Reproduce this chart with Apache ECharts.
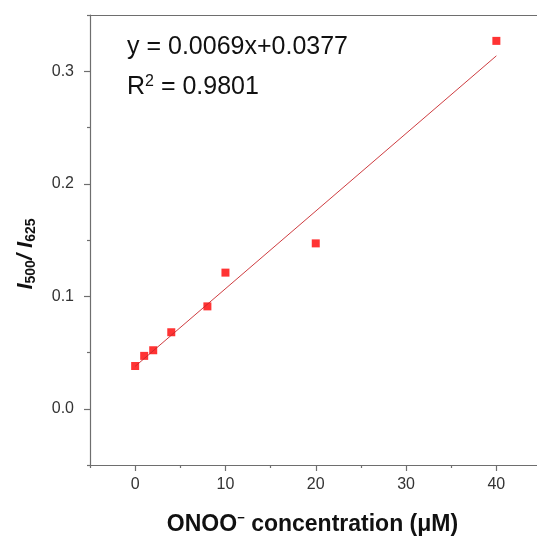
<!DOCTYPE html>
<html>
<head>
<meta charset="utf-8">
<script src="https://cdn.jsdelivr.net/npm/echarts@6/dist/echarts.min.js"></script>
<style>
  html, body { margin: 0; padding: 0; background: #fff; }
  #chart { width: 537px; height: 540px; }
</style>
</head>
<body>
<div id="chart"></div>
<script>
// Calibration data: ratio I500/I625 vs ONOO- concentration (µM)
const concentrations = [0, 1, 2, 4, 8, 10, 20, 40];
const ratios = [0.038, 0.047, 0.052, 0.068, 0.091, 0.121, 0.147, 0.327];

// Linear fit reported on the plot
const fitSlope = 0.0069;
const fitIntercept = 0.0377;
const fitRSquared = '0.9801';
const fitRange = [0, 40];

// Axis ticks
const xMajorTicks = [0, 10, 20, 30, 40];
const xMinorTicks = [-5, 5, 15, 25, 35];
const yMajorTicks = [0, 0.1, 0.2, 0.3];
const yMinorTicks = [-0.05, 0.05, 0.15, 0.25, 0.35];

const fitLine = fitRange.map(x => [x, fitSlope * x + fitIntercept]);

const axisColor = '#6e6e6e';
const font = 'Liberation Sans, Arial, sans-serif';
const X_MIN = -5, X_MAX = 44.5, Y_MIN = -0.05, Y_MAX = 0.35;

const chart = echarts.init(document.getElementById('chart'), null, { renderer: 'canvas' });

chart.setOption({
  backgroundColor: '#fff',
  animation: false,
  grid: { left: 90, top: 15, bottom: 75, right: 0, containLabel: false, outerBoundsMode: 'none' },
  title: [
    {
      text: 'y = 0.0069x+0.0377',
      left: 127, top: 34, padding: 0,
      textStyle: { fontFamily: font, fontSize: 25, fontWeight: 'normal', color: '#111', lineHeight: 26 }
    },
    {
      text: '{r|R}{sup|2}{r| = ' + fitRSquared + '}',
      left: 127, top: 74, padding: 0,
      textStyle: {
        fontFamily: font, fontSize: 25, fontWeight: 'normal', color: '#111',
        rich: {
          r: { fontFamily: font, fontSize: 25, color: '#111', lineHeight: 26 },
          sup: { fontFamily: font, fontSize: 16, color: '#111', lineHeight: 12, verticalAlign: 'top' }
        }
      }
    }
  ],
  xAxis: [
    {
      type: 'value', position: 'bottom', min: X_MIN, max: X_MAX,
      splitLine: { show: false },
      axisLine: { show: true, onZero: false, lineStyle: { color: axisColor, width: 1.2 } },
      axisTick: { show: true, inside: false, length: 6, customValues: xMajorTicks, lineStyle: { color: axisColor, width: 1.2 } },
      axisLabel: { show: true, customValues: xMajorTicks, margin: 12, fontFamily: font, fontSize: 16, color: '#333' },
      name: '{b|ONOO}{sup|−}{b| concentration (μM)}',
      nameLocation: 'middle', nameGap: 47,
      nameTextStyle: {
        padding: [0, 2, 0, 0],
        rich: {
          b: { fontFamily: font, fontSize: 23, fontWeight: 'bold', color: '#111', lineHeight: 26 },
          sup: { fontFamily: font, fontSize: 13, fontWeight: 'bold', color: '#111', lineHeight: 10, verticalAlign: 'top' }
        }
      }
    },
    {
      type: 'value', position: 'bottom', min: X_MIN, max: X_MAX,
      splitLine: { show: false },
      axisLine: { show: false, onZero: false },
      axisTick: { show: true, inside: false, length: 3, customValues: xMinorTicks, lineStyle: { color: axisColor, width: 1.2 } },
      axisLabel: { show: false }
    },
    {
      type: 'value', position: 'top', min: X_MIN, max: X_MAX,
      splitLine: { show: false },
      axisLine: { show: true, onZero: false, lineStyle: { color: axisColor, width: 1.2 } },
      axisTick: { show: false },
      axisLabel: { show: false }
    }
  ],
  yAxis: [
    {
      type: 'value', position: 'left', min: Y_MIN, max: Y_MAX,
      splitLine: { show: false },
      axisLine: { show: true, onZero: false, lineStyle: { color: axisColor, width: 1.2 } },
      axisTick: { show: true, inside: false, length: 6, customValues: yMajorTicks, lineStyle: { color: axisColor, width: 1.2 } },
      axisLabel: {
        show: true, customValues: yMajorTicks, margin: 16,
        fontFamily: font, fontSize: 16, color: '#333',
        formatter: v => v.toFixed(1)
      },
      name: '{i|I}{sub|500}{i|/ I}{sub|625}',
      nameLocation: 'middle', nameGap: 52, nameRotate: 90,
      nameTextStyle: {
        padding: [0, 28, 0, 0],
        rich: {
          i: { fontFamily: font, fontSize: 22, fontWeight: 'bold', fontStyle: 'italic', color: '#111', lineHeight: 24 },
          sub: { fontFamily: font, fontSize: 14, fontWeight: 'bold', color: '#111', lineHeight: 10, verticalAlign: 'bottom' }
        }
      }
    },
    {
      type: 'value', position: 'left', min: Y_MIN, max: Y_MAX,
      splitLine: { show: false },
      axisLine: { show: false, onZero: false },
      axisTick: { show: true, inside: false, length: 3, customValues: yMinorTicks, lineStyle: { color: axisColor, width: 1.2 } },
      axisLabel: { show: false }
    }
  ],
  series: [
    {
      type: 'line', name: 'fit', xAxisIndex: 0, yAxisIndex: 0,
      data: fitLine, symbol: 'none', silent: true,
      lineStyle: { color: '#c8262a', width: 0.9 }
    },
    {
      type: 'scatter', name: 'data', xAxisIndex: 0, yAxisIndex: 0,
      data: concentrations.map((c, i) => [c, ratios[i]]),
      symbol: 'rect', symbolSize: 8,
      itemStyle: { color: '#ff0000' }
    }
  ]
});
</script>
</body>
</html>
